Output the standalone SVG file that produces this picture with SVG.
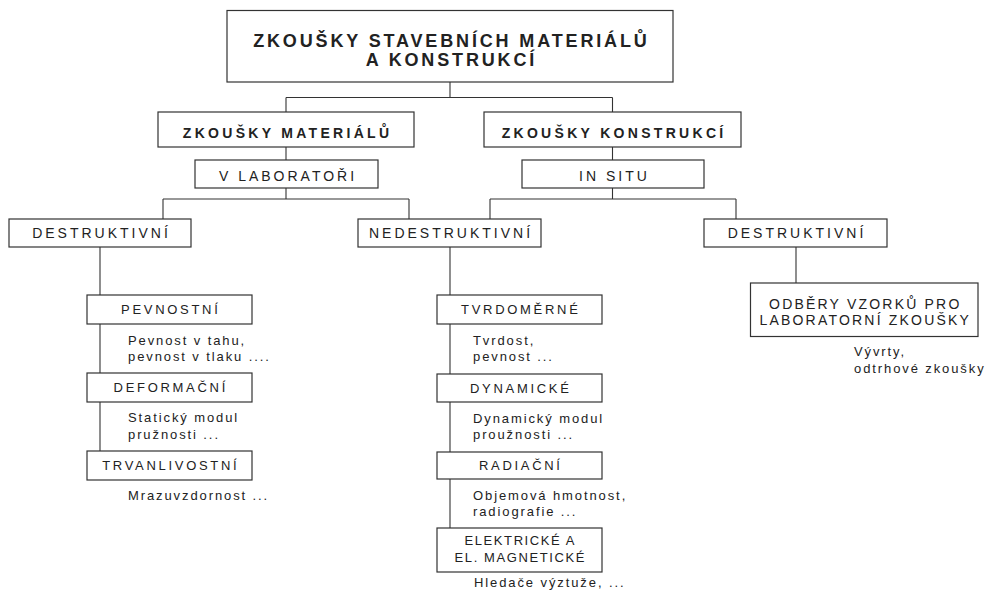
<svg xmlns="http://www.w3.org/2000/svg" width="987" height="590" viewBox="0 0 987 590">
<style>
.bx{fill:#fff;stroke:#333;stroke-width:1.2}
.ln{fill:none;stroke:#333;stroke-width:1.1}
text{font-family:"Liberation Sans",Arial,sans-serif;fill:#222}
.t0{font-size:18px;font-weight:bold;letter-spacing:2.85px;text-anchor:middle}
.t1{font-size:14px;font-weight:bold;letter-spacing:3.3px;text-anchor:middle}
.t2{font-size:14px;letter-spacing:3px;text-anchor:middle}
.t3{font-size:13px;letter-spacing:2.7px;text-anchor:middle}
.t4{font-size:13px;letter-spacing:1.6px;text-anchor:middle}
.t5{font-size:14px;letter-spacing:2.2px;text-anchor:middle}
.d{font-size:13px;letter-spacing:1.9px}
</style>
<rect width="987" height="590" fill="#fff"/>
<g id="connectors">
<path class="ln" d="M450,82V97.5M286,97.5H612.5M286,97.5V112M612.5,97.5V112"/>
<path class="ln" d="M286,147V160M612.5,147V160"/>
<path class="ln" d="M286,188V199M163,199H409M163,199V219M409,199V219"/>
<path class="ln" d="M612.5,188V199M490,199H736M490,199V219M736,199V219"/>
<path class="ln" d="M100,247V451M450,247V528M796,247V283"/>
</g>
<g id="root"><rect class="bx" x="227" y="10.5" width="446" height="71.5"/>
<text class="t0" x="451.4" y="47">ZKOUŠKY STAVEBNÍCH MATERIÁLŮ</text>
<text class="t0" x="451.4" y="66">A KONSTRUKCÍ</text></g>
<g id="zkousky-materialu"><rect class="bx" x="158" y="112" width="256" height="35"/>
<text class="t1" x="287.6" y="138">ZKOUŠKY MATERIÁLŮ</text></g>
<g id="zkousky-konstrukci"><rect class="bx" x="484" y="112" width="257" height="35"/>
<text class="t1" x="614.1" y="138">ZKOUŠKY KONSTRUKCÍ</text></g>
<g id="v-laboratori"><rect class="bx" x="195" y="160" width="183" height="28"/>
<text class="t2" x="288" y="181">V LABORATOŘI</text></g>
<g id="in-situ"><rect class="bx" x="522" y="160" width="182" height="28"/>
<text class="t2" x="614.5" y="181">IN SITU</text></g>
<g id="destruktivni-1"><rect class="bx" x="9" y="219" width="182" height="28"/>
<text class="t2" x="101.5" y="238">DESTRUKTIVNÍ</text></g>
<g id="nedestruktivni"><rect class="bx" x="358" y="219" width="183" height="28"/>
<text class="t2" x="451" y="238">NEDESTRUKTIVNÍ</text></g>
<g id="destruktivni-2"><rect class="bx" x="704" y="219" width="183" height="28"/>
<text class="t2" x="797" y="238">DESTRUKTIVNÍ</text></g>
<g id="pevnostni"><rect class="bx" x="87" y="295" width="165" height="29"/>
<text class="t3" x="170.8" y="314">PEVNOSTNÍ</text></g>
<g id="deformacni"><rect class="bx" x="87" y="373" width="165" height="29"/>
<text class="t3" x="170.8" y="392">DEFORMAČNÍ</text></g>
<g id="trvanlivostni"><rect class="bx" x="87" y="451" width="165" height="29"/>
<text class="t3" x="170.8" y="470">TRVANLIVOSTNÍ</text></g>
<g id="tvrdomerne"><rect class="bx" x="437" y="295" width="165" height="29"/>
<text class="t3" x="520.8" y="314">TVRDOMĚRNÉ</text></g>
<g id="dynamicke"><rect class="bx" x="437" y="374" width="165" height="28"/>
<text class="t3" x="520.8" y="392.5">DYNAMICKÉ</text></g>
<g id="radiacni"><rect class="bx" x="437" y="452" width="165" height="27"/>
<text class="t3" x="520.8" y="470">RADIAČNÍ</text></g>
<g id="elektricke"><rect class="bx" x="437" y="528" width="165" height="44"/>
<text class="t4" x="520.3" y="545">ELEKTRICKÉ A</text>
<text class="t4" x="520.3" y="561.5">EL. MAGNETICKÉ</text></g>
<g id="odbery"><rect class="bx" x="750.5" y="283" width="227.5" height="53.5"/>
<text class="t5" x="865.3" y="309">ODBĚRY VZORKŮ PRO</text>
<text class="t5" x="865.3" y="324.5">LABORATORNÍ ZKOUŠKY</text></g>
<g id="descriptions">
<text class="d" x="128" y="344.5">Pevnost v tahu,</text>
<text class="d" x="128" y="361">pevnost v tlaku ....</text>
<text class="d" x="128" y="422">Statický modul</text>
<text class="d" x="128" y="438.5">pružnosti ...</text>
<text class="d" x="128" y="499.5">Mrazuvzdornost ...</text>
<text class="d" x="473" y="344.5">Tvrdost,</text>
<text class="d" x="473" y="361">pevnost ...</text>
<text class="d" x="473" y="422.5">Dynamický modul</text>
<text class="d" x="473" y="438.5">proužnosti ...</text>
<text class="d" x="473" y="499.5">Objemová hmotnost,</text>
<text class="d" x="473" y="515.5">radiografie ...</text>
<text class="d" x="474" y="587">Hledače výztuže, ...</text>
<text class="d" x="854" y="356">Vývrty,</text>
<text class="d" x="854" y="373">odtrhové zkoušky</text>
</g>
</svg>
